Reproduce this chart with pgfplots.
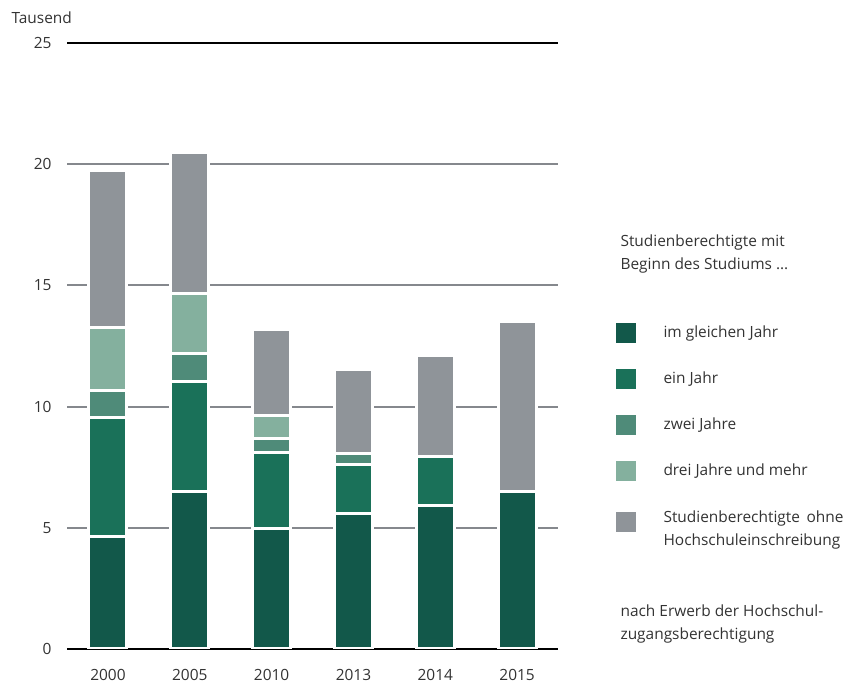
\documentclass[border=0pt]{standalone}
\usepackage{pgfplots}
\pgfplotsset{compat=1.18}
\usepackage{pgfplotstable}
\usepackage{fontspec}
\setmainfont{Open Sans}

\definecolor{cDark}{HTML}{12584A}
\definecolor{cEin}{HTML}{1A7159}
\definecolor{cZwei}{HTML}{4F8B79}
\definecolor{cDrei}{HTML}{84B09E}
\definecolor{cGray}{HTML}{8F9499}
\definecolor{cGrid}{HTML}{85888D}
\definecolor{cText}{HTML}{333333}

% x: 0=2000, 1=2005, 2=2010, 3=2013, 4=2014, 5=2015
\pgfplotstableread{
x  dark  ein   zwei  drei  ohne
0  4.66  4.87  1.15  2.60  6.44
1  6.48  4.56  1.15  2.48  5.83
2  4.98  3.13  0.58  0.93  3.58
3  5.60  2.02  0.44  0.00  3.49
4  5.93  2.00  0.00  0.00  4.17
5  6.48  0.00  0.00  0.00  7.05
}\datatable

\begin{document}
\begin{tikzpicture}[x=1bp,y=1bp,font=\fontsize{15.5}{23}\selectfont\color{cText}]
\path[use as bounding box] (0,0) rectangle (860,684);
\begin{axis}[
    at={(67bp,35bp)}, anchor=south west,
    scale only axis,
    width=491bp, height=606bp,
    xmin=-0.5, xmax=5.5,
    ymin=0, ymax=25,
    axis line style={draw=none},
    ybar stacked,
    bar width=38bp,
    xtick=data,
    xticklabels={2000,2005,2010,2013,2014,2015},
    ytick={5,10,15,20},
    extra y ticks={0,25},
    extra y tick style={grid style={black, line width=1.8bp}},
    ymajorgrids,
    grid style={cGrid, line width=2bp},
    major tick length=0pt,
    tick label style={font=\fontsize{15.5}{18}\selectfont, text=cText},
    yticklabel style={anchor=east, xshift=-12bp},
    xticklabel style={yshift=-17bp},
    /pgf/number format/assume math mode=true,
    every axis plot/.append style={draw=white, line width=3bp},
]
\addplot[fill=cDark] table[x=x, y=dark] {\datatable};
\addplot[fill=cEin] table[x=x, y=ein] {\datatable};
\addplot[fill=cZwei] table[x=x, y=zwei] {\datatable};
\addplot[fill=cDrei] table[x=x, y=drei] {\datatable};
\addplot[fill=cGray] table[x=x, y=ohne] {\datatable};
\draw[black, line width=2.4bp] (axis cs:-0.5,0) -- (axis cs:5.5,0);
\end{axis}

\node[anchor=west] at (8,666) {Tausend};

\node[anchor=west, align=left] at (617,430) {Studienberechtigte mit\\Beginn des Studiums \dots};

\fill[cDark] (616,341) rectangle (636,361);
\node[anchor=west] at (660,351) {im gleichen Jahr};
\fill[cEin] (616,295) rectangle (636,315);
\node[anchor=west] at (660,305) {ein Jahr};
\fill[cZwei] (616,249) rectangle (636,269);
\node[anchor=west] at (660,259) {zwei Jahre};
\fill[cDrei] (616,203) rectangle (636,223);
\node[anchor=west] at (660,213) {drei Jahre und mehr};
\fill[cGray] (616,152) rectangle (636,172);
\node[anchor=west, align=left] at (660,154) {Studienberechtigte\, ohne\\Hochschuleinschreibung};

\node[anchor=west, align=left] at (617,60) {nach Erwerb der Hochschul-\\zugangsberechtigung};
\end{tikzpicture}
\end{document}
